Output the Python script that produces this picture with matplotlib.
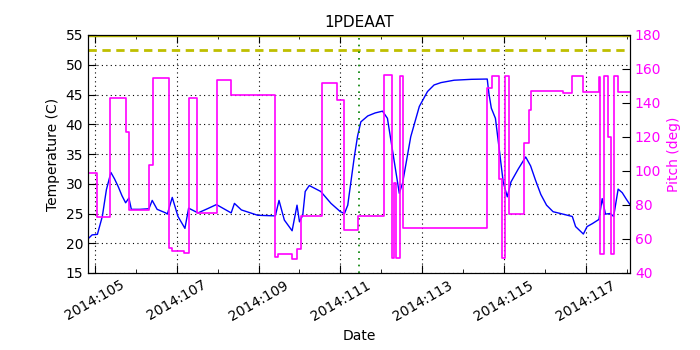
import matplotlib
matplotlib.use('Agg')
import matplotlib.pyplot as plt
from matplotlib.ticker import FixedLocator, FuncFormatter

# Temperature (blue), x = day of year 2014
temp_days = [104.84, 104.93, 105.06, 105.18, 105.28, 105.39, 105.48, 105.57, 105.66, 105.75,
             105.83, 105.89, 106.10, 106.32, 106.40, 106.52, 106.73, 106.77, 106.89, 107.03,
             107.20, 107.29, 107.52, 107.75, 107.97, 108.33, 108.41, 108.58, 108.98, 109.41,
             109.50, 109.63, 109.82, 109.94, 110.00, 110.08, 110.14, 110.24, 110.52, 110.77,
             111.00, 111.10, 111.18, 111.34, 111.42, 111.50, 111.67, 111.85, 112.03, 112.15,
             112.44, 112.52, 112.72, 112.93, 113.13, 113.29, 113.46, 113.78, 114.20, 114.59,
             114.63, 114.69, 114.79, 114.88, 114.98, 115.08, 115.17, 115.35, 115.53, 115.65,
             115.77, 115.90, 116.04, 116.20, 116.38, 116.67, 116.75, 116.94, 117.03, 117.16,
             117.32, 117.40, 117.48, 117.60, 117.68, 117.79, 117.89, 118.00, 118.08]
temp_vals = [20.8, 21.4, 21.5, 24.5, 29.0, 31.9, 30.8, 29.5, 28.0, 26.8,
             27.6, 25.7, 25.7, 25.8, 27.2, 25.7, 25.1, 24.9, 27.7, 24.5,
             22.5, 25.9, 25.1, 25.8, 26.5, 25.1, 26.7, 25.6, 24.7, 24.6,
             27.2, 23.9, 22.1, 26.4, 23.6, 24.7, 28.7, 29.7, 28.7, 26.7,
             25.3, 25.0, 26.4, 34.5, 38.0, 40.4, 41.4, 41.9, 42.2, 41.0,
             28.4, 30.1, 37.9, 43.0, 45.5, 46.6, 47.0, 47.4, 47.55, 47.6,
             45.2, 42.7, 41.0, 36.0, 30.3, 27.8, 30.3, 32.5, 34.5, 33.0,
             30.6, 28.2, 26.4, 25.3, 25.0, 24.5, 22.8, 21.55, 22.8, 23.3,
             24.0, 27.5, 24.9, 25.0, 24.5, 29.1, 28.5, 27.3, 26.5]

# Pitch (magenta), step changes
pitch_days = [104.83, 105.06, 105.38, 105.75, 105.84, 106.33, 106.41, 106.80, 106.89, 107.18,
              107.29, 107.49, 107.99, 108.33, 109.41, 109.48, 109.81, 109.94, 110.04, 110.55,
              110.91, 111.10, 111.42, 112.06, 112.25, 112.31, 112.36, 112.46, 112.54, 114.59,
              114.70, 114.87, 114.95, 115.03, 115.12, 115.50, 115.60, 115.65, 116.44, 116.67,
              116.93, 117.32, 117.34, 117.45, 117.54, 117.61, 117.70, 117.79, 118.08]
pitch_vals = [99.0, 73.0, 143.0, 123.0, 77.0, 103.5, 155.0, 54.5, 53.0, 51.6,
              143.0, 75.5, 153.5, 145.0, 49.6, 51.2, 48.1, 54.1, 73.7, 151.6,
              141.8, 65.3, 73.5, 156.5, 48.6, 92.8, 48.6, 156.0, 66.3, 148.6,
              155.9, 95.1, 48.6, 155.9, 74.7, 116.3, 135.9, 147.0, 145.7, 155.9,
              146.7, 155.5, 51.2, 155.9, 119.8, 51.2, 155.9, 146.3, 146.3]

planning_limit = 52.5
top_limit = 55.0
now_day = 111.45
year = 2014

magenta = '#ff00ff'

fig = plt.figure(figsize=(7, 3.5), dpi=100)
ax = fig.add_axes([0.1257, 0.22, 0.7743, 0.68])

ax.plot(temp_days, temp_vals, color='b', lw=1)
ax.axhline(planning_limit, color='y', ls='--', lw=2, dashes=(3, 2))
ax.axhline(top_limit, color='y', lw=2.5)
ax.axvline(now_day, color='g', ls=':', lw=1.2, dashes=(1, 3))

ax.set_xlim(104.83, 118.08)
ax.set_ylim(15, 55)
ax.xaxis.set_major_locator(FixedLocator(range(105, 118, 2)))
ax.xaxis.set_minor_locator(FixedLocator(range(105, 119)))
ax.xaxis.set_major_formatter(FuncFormatter(lambda v, p: '%d:%03d' % (year, int(round(v)))))
ax.set_yticks(range(15, 56, 5))
ax.grid(True, which='major', color='k', linestyle=(0, (1, 3)), linewidth=0.8)
ax.tick_params(which='both', direction='in', top=True, labelsize=10)
ax.tick_params(which='major', length=6)
ax.tick_params(which='minor', length=3)
for lab in ax.get_xticklabels():
    lab.set_rotation(30)
    lab.set_ha('center')
ax.set_ylabel('Temperature (C)', fontsize=10)
ax.set_xlabel('Date', fontsize=10)
ax.set_title('1PDEAAT', fontsize=11)

ax2 = ax.twinx()
ax2.plot(pitch_days, pitch_vals, drawstyle='steps-post', color=magenta, lw=1.2)
ax2.set_ylim(40, 180)
ax2.set_yticks(range(40, 181, 20))
ax2.tick_params(direction='in', length=6, labelsize=10, labelcolor=magenta)
ax2.set_ylabel('Pitch (deg)', color=magenta, fontsize=10)

fig.savefig('out.png', dpi=100, facecolor='white')
